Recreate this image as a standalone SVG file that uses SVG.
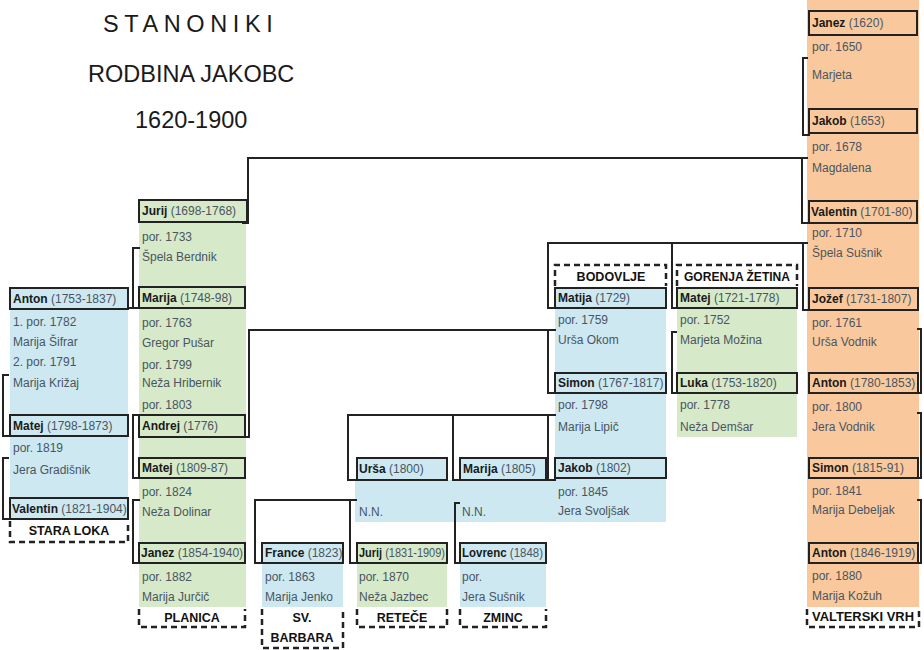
<svg xmlns="http://www.w3.org/2000/svg" width="924" height="650" viewBox="0 0 924 650">
<style>
.bg{fill:#ffffff}
.blue{fill:#cde8f1}
.green{fill:#d6e9c9}
.orange{fill:#f9c99d}
.box{fill:none;stroke:#222;stroke-width:2}
.t{font-family:"Liberation Sans",Arial,sans-serif;font-size:12px;fill:#4a5561}
.b{font-weight:bold;fill:#1a1a1a}
.lbl{font-family:"Liberation Sans",Arial,sans-serif;font-size:12.5px;font-weight:bold;fill:#111;text-anchor:middle}
.dash{fill:none;stroke:#222;stroke-width:2.5;stroke-dasharray:6 4}
.conn path{fill:none;stroke:#222;stroke-width:2}
.title{font-family:"Liberation Sans",Arial,sans-serif;font-size:23.5px;fill:#1a1a1a}
</style>
<rect class="bg" x="0" y="0" width="924" height="650"/>

<g id="title">
<text class="title" x="103" y="32" letter-spacing="5.6">STANONIKI</text>
<text class="title" x="88" y="82">RODBINA JAKOBC</text>
<text class="title" x="135" y="128">1620-1900</text>
</g>

<!-- backgrounds -->
<g id="fills">
<rect class="blue" x="10" y="288" width="118" height="232"/>
<rect class="green" x="139" y="200" width="107" height="407"/>
<rect class="blue" x="262" y="543" width="81" height="64"/>
<rect class="blue" x="357" y="458" width="90" height="22"/>
<rect class="blue" x="460" y="458" width="86" height="22"/>
<rect class="blue" x="355" y="480" width="200" height="42"/>
<rect class="green" x="357" y="543" width="90" height="64"/>
<rect class="blue" x="460" y="543" width="86" height="64"/>
<rect class="blue" x="555" y="288" width="111" height="234"/>
<rect class="green" x="677" y="288" width="120" height="149"/>
<rect class="orange" x="807" y="0" width="112" height="607"/>
</g>

<g class="conn" id="connectors">
<path d="M242,223 H248 V158 H808 M802,158 V223 H810"/>
<path d="M808,58 H803 V135 H810"/>
<path d="M556,308 H548 V243 H808 M672,243 V308 H678 M803,243 V310 H810"/>
<path d="M244,437 H249 V330 H556 M548,330 V393 H556"/>
<path d="M357,480 H348 V415 H556 M453,415 V480 H460 M548,415 V480 H556"/>
<path d="M357,500 H350 V563 H357 M350,500 H255 V563 H262"/>
<path d="M460,503 H455 V563 H460"/>
<path d="M140,248 H133 V308 M129,308 H140"/>
<path d="M140,415 H133 V478 H140"/>
<path d="M140,500 H133 V563 H140"/>
<path d="M9,375 H3 V436 H10"/>
<path d="M9,458 H3 V519 H10"/>
<path d="M677,332 H672 V393 H677"/>
<path d="M917,329 H921 V393 H917"/>
<path d="M917,413 H921 V478 H917"/>
<path d="M917,500 H921 V563 H917"/>
</g>

<!-- STARA LOKA -->
<g id="stara-loka">
<g id="n-anton-1753"><rect class="box" x="10" y="288" width="118" height="21"/>
<text class="t" x="13" y="303"><tspan class="b">Anton</tspan> (1753-1837)</text>
<text class="t" x="13" y="326">1. por. 1782</text>
<text class="t" x="13" y="346">Marija Šifrar</text>
<text class="t" x="13" y="366">2. por. 1791</text>
<text class="t" x="13" y="387">Marija Križaj</text></g>
<g id="n-matej-1798"><rect class="box" x="10" y="415" width="118" height="21"/>
<text class="t" x="13" y="430"><tspan class="b">Matej</tspan> (1798-1873)</text>
<text class="t" x="13" y="452">por. 1819</text>
<text class="t" x="13" y="474">Jera Gradišnik</text></g>
<g id="n-valentin-1821"><rect class="box" x="10" y="498" width="118" height="21"/>
<text class="t" x="12" y="513"><tspan class="b">Valentin</tspan> (1821-1904)</text></g>
<g id="l-stara-loka"><path class="dash" d="M10,521 V542 H128 V521"/>
<text class="lbl" x="69" y="535">STARA LOKA</text></g>
</g>

<!-- PLANICA -->
<g id="planica">
<g id="n-jurij-1698"><rect class="box" x="139" y="200" width="108" height="22"/>
<text class="t" x="142" y="215"><tspan class="b">Jurij</tspan> (1698-1768)</text>
<text class="t" x="142" y="241">por. 1733</text>
<text class="t" x="142" y="261">Špela Berdnik</text></g>
<g id="n-marija-1748"><rect class="box" x="139" y="287" width="106" height="21"/>
<text class="t" x="142" y="302"><tspan class="b">Marija</tspan> (1748-98)</text>
<text class="t" x="142" y="327">por. 1763</text>
<text class="t" x="142" y="347">Gregor Pušar</text>
<text class="t" x="142" y="369">por. 1799</text>
<text class="t" x="142" y="387">Neža Hribernik</text>
<text class="t" x="142" y="409">por. 1803</text></g>
<g id="n-andrej-1776"><rect class="box" x="139" y="415" width="106" height="22"/>
<text class="t" x="142" y="430"><tspan class="b">Andrej</tspan> (1776)</text></g>
<g id="n-matej-1809"><rect class="box" x="139" y="458" width="106" height="20"/>
<text class="t" x="142" y="472"><tspan class="b">Matej</tspan> (1809-87)</text>
<text class="t" x="142" y="496">por. 1824</text>
<text class="t" x="142" y="516">Neža Dolinar</text></g>
<g id="n-janez-1854"><rect class="box" x="139" y="543" width="106" height="20"/>
<text class="t" x="141" y="557"><tspan class="b">Janez</tspan> (1854-1940)</text>
<text class="t" x="142" y="581">por. 1882</text>
<text class="t" x="142" y="601">Marija Jurčič</text></g>
<g id="l-planica"><path class="dash" d="M139,609 V627 H245 V609"/>
<text class="lbl" x="192" y="622">PLANICA</text></g>
</g>

<!-- SV. BARBARA -->
<g id="sv-barbara">
<g id="n-france-1823"><rect class="box" x="262" y="543" width="81" height="20"/>
<text class="t" x="265" y="557"><tspan class="b">France</tspan> (1823)</text>
<text class="t" x="265" y="581">por. 1863</text>
<text class="t" x="265" y="601">Marija Jenko</text></g>
<g id="l-sv-barbara"><path class="dash" d="M262,609 V648 H343 V609"/>
<text class="lbl" x="302" y="622">SV.</text>
<text class="lbl" x="302" y="642">BARBARA</text></g>
</g>

<!-- RETECE -->
<g id="retece">
<g id="n-ursa-1800"><rect class="box" x="357" y="458" width="90" height="22"/>
<text class="t" x="359" y="473"><tspan class="b">Urša</tspan> (1800)</text>
<text class="t" x="359" y="516">N.N.</text></g>
<g id="n-jurij-1831"><rect class="box" x="357" y="543" width="90" height="20"/>
<text class="t" x="359" y="557" textLength="86" lengthAdjust="spacingAndGlyphs"><tspan class="b">Jurij</tspan> (1831-1909)</text>
<text class="t" x="359" y="581">por. 1870</text>
<text class="t" x="359" y="601">Neža Jazbec</text></g>
<g id="l-retece"><path class="dash" d="M357,609 V627 H447 V609"/>
<text class="lbl" x="402" y="622">RETEČE</text></g>
</g>

<!-- ZMINC -->
<g id="zminc">
<g id="n-marija-1805"><rect class="box" x="460" y="458" width="86" height="22"/>
<text class="t" x="463" y="473"><tspan class="b">Marija</tspan> (1805)</text>
<text class="t" x="462" y="516">N.N.</text></g>
<g id="n-lovrenc-1848"><rect class="box" x="460" y="543" width="86" height="20"/>
<text class="t" x="462" y="557" textLength="81" lengthAdjust="spacingAndGlyphs"><tspan class="b">Lovrenc</tspan> (1848)</text>
<text class="t" x="462" y="581">por.</text>
<text class="t" x="462" y="601">Jera Sušnik</text></g>
<g id="l-zminc"><path class="dash" d="M460,609 V627 H546 V609"/>
<text class="lbl" x="503" y="622">ZMINC</text></g>
</g>

<!-- BODOVLJE -->
<g id="bodovlje">
<g id="l-bodovlje"><path class="dash" d="M555,286 V265 H666 V286"/>
<text class="lbl" x="611" y="281">BODOVLJE</text></g>
<g id="n-matija-1729"><rect class="box" x="555" y="288" width="111" height="20"/>
<text class="t" x="558" y="302"><tspan class="b">Matija</tspan> (1729)</text>
<text class="t" x="558" y="324">por. 1759</text>
<text class="t" x="558" y="344">Urša Okom</text></g>
<g id="n-simon-1767"><rect class="box" x="555" y="373" width="111" height="20"/>
<text class="t" x="558" y="387"><tspan class="b">Simon</tspan> (1767-1817)</text>
<text class="t" x="558" y="409">por. 1798</text>
<text class="t" x="558" y="431">Marija Lipič</text></g>
<g id="n-jakob-1802"><rect class="box" x="555" y="458" width="111" height="20"/>
<text class="t" x="558" y="472"><tspan class="b">Jakob</tspan> (1802)</text>
<text class="t" x="558" y="496">por. 1845</text>
<text class="t" x="558" y="515">Jera Svoljšak</text></g>
</g>

<!-- GORENJA ZETINA -->
<g id="gorenja-zetina">
<g id="l-gorenja-zetina"><path class="dash" d="M677,286 V265 H797 V286"/>
<text class="lbl" x="737" y="281" textLength="106" lengthAdjust="spacingAndGlyphs">GORENJA ŽETINA</text></g>
<g id="n-matej-1721"><rect class="box" x="677" y="288" width="120" height="20"/>
<text class="t" x="680" y="302"><tspan class="b">Matej</tspan> (1721-1778)</text>
<text class="t" x="680" y="324">por. 1752</text>
<text class="t" x="680" y="344">Marjeta Možina</text></g>
<g id="n-luka-1753"><rect class="box" x="677" y="373" width="120" height="20"/>
<text class="t" x="680" y="387"><tspan class="b">Luka</tspan> (1753-1820)</text>
<text class="t" x="680" y="409">por. 1778</text>
<text class="t" x="680" y="431">Neža Demšar</text></g>
</g>

<!-- VALTERSKI VRH -->
<g id="valterski-vrh">
<g id="n-janez-1620"><rect class="box" x="809" y="11" width="108" height="24"/>
<text class="t" x="812" y="27"><tspan class="b">Janez</tspan> (1620)</text>
<text class="t" x="812" y="51">por. 1650</text>
<text class="t" x="812" y="79">Marjeta</text></g>
<g id="n-jakob-1653"><rect class="box" x="809" y="109" width="108" height="24"/>
<text class="t" x="812" y="125"><tspan class="b">Jakob</tspan> (1653)</text>
<text class="t" x="812" y="151">por. 1678</text>
<text class="t" x="812" y="172">Magdalena</text></g>
<g id="n-valentin-1701"><rect class="box" x="809" y="201" width="108" height="22"/>
<text class="t" x="811" y="216"><tspan class="b">Valentin</tspan> (1701-80)</text>
<text class="t" x="812" y="237">por. 1710</text>
<text class="t" x="812" y="257">Špela Sušnik</text></g>
<g id="n-jozef-1731"><rect class="box" x="809" y="288" width="109" height="22"/>
<text class="t" x="812" y="303"><tspan class="b">Jožef</tspan> (1731-1807)</text>
<text class="t" x="812" y="327">por. 1761</text>
<text class="t" x="812" y="346">Urša Vodnik</text></g>
<g id="n-anton-1780"><rect class="box" x="809" y="373" width="109" height="20"/>
<text class="t" x="812" y="387"><tspan class="b">Anton</tspan> (1780-1853)</text>
<text class="t" x="812" y="411">por. 1800</text>
<text class="t" x="812" y="431">Jera Vodnik</text></g>
<g id="n-simon-1815"><rect class="box" x="809" y="458" width="109" height="20"/>
<text class="t" x="812" y="472"><tspan class="b">Simon</tspan> (1815-91)</text>
<text class="t" x="812" y="495">por. 1841</text>
<text class="t" x="812" y="514">Marija Debeljak</text></g>
<g id="n-anton-1846"><rect class="box" x="809" y="543" width="109" height="20"/>
<text class="t" x="812" y="557"><tspan class="b">Anton</tspan> (1846-1919)</text>
<text class="t" x="812" y="580">por. 1880</text>
<text class="t" x="812" y="600">Marija Kožuh</text></g>
<g id="l-valterski-vrh"><path class="dash" d="M807,609 V627 H919 V609"/>
<text class="lbl" x="863" y="621" textLength="102" lengthAdjust="spacingAndGlyphs">VALTERSKI VRH</text></g>
</g>
</svg>
